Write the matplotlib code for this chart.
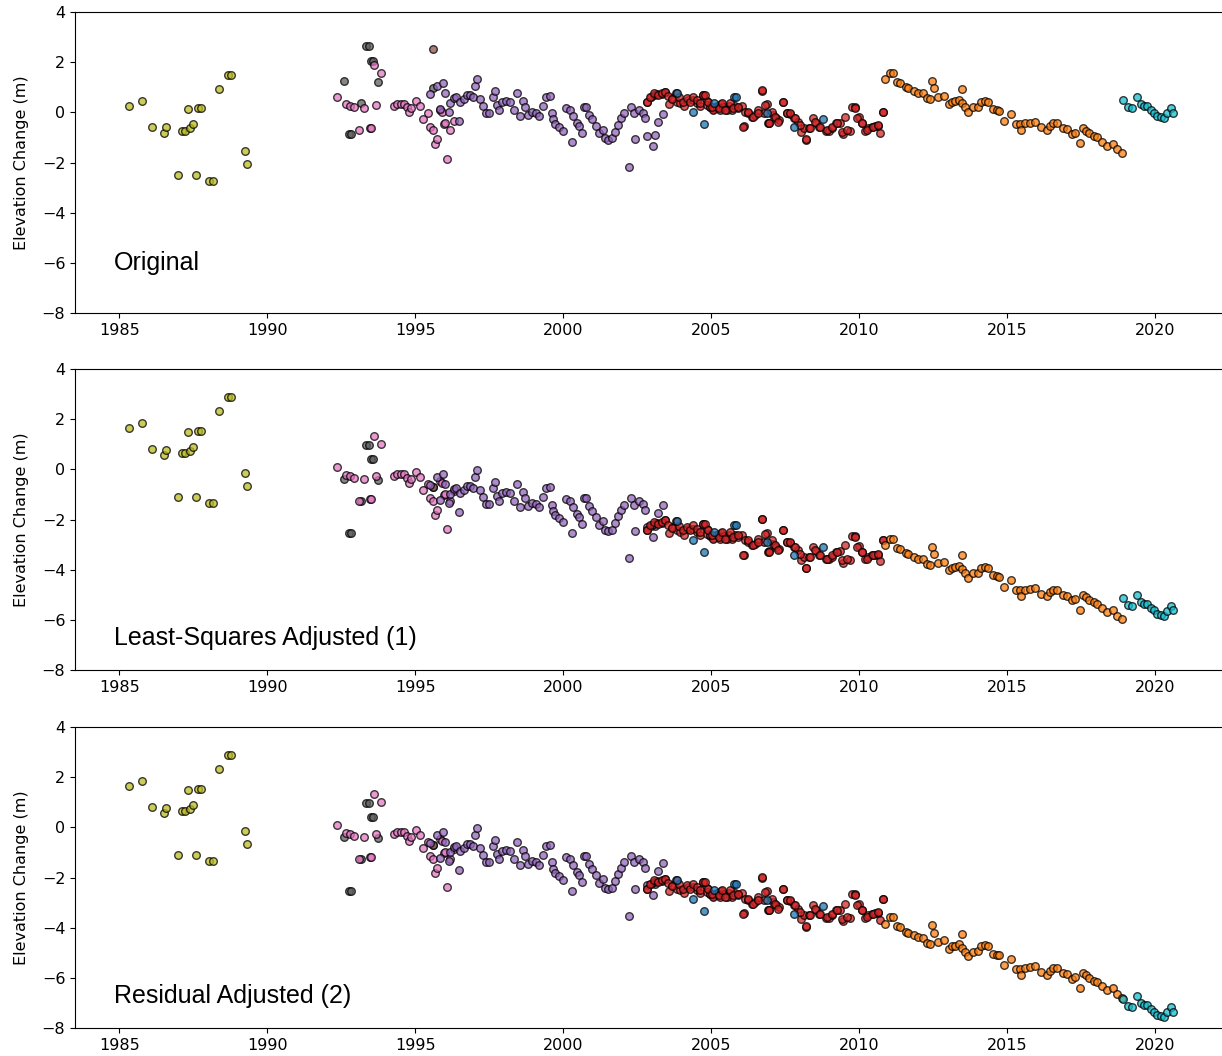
import matplotlib.pyplot as plt

# original elevation change (m) per sensor segment
olive_x = [1985.34, 1985.77, 1986.1, 1986.5, 1986.59, 1987.0, 1987.12, 1987.23, 1987.34, 1987.4,
           1987.5, 1987.6, 1987.68, 1987.77, 1988.05, 1988.17, 1988.36, 1988.67, 1988.77, 1989.26, 1989.33]
olive_y = [0.25, 0.46, -0.57, -0.81, -0.6, -2.51, -0.75, -0.75, 0.12, -0.64,
           -0.48, -2.51, 0.16, 0.16, -2.74, -2.74, 0.93, 1.49, 1.49, -1.53, -2.06]

gray_x = [1992.61, 1992.75, 1992.83, 1993.17, 1993.34, 1993.43, 1993.51, 1993.59, 1993.76, 1995.62]
gray_y = [1.25, -0.87, -0.87, 0.38, 2.64, 2.64, 2.06, 2.06, 1.22, 0.96]

brown_x = [1995.6]
brown_y = [2.51]

pink_x = [1992.35, 1992.67, 1992.8, 1992.92, 1993.1, 1993.28, 1993.46, 1993.52, 1993.6, 1993.68,
          1993.85, 1994.27, 1994.4, 1994.52, 1994.63, 1994.74, 1994.8, 1994.85, 1995.03, 1995.17,
          1995.28, 1995.42, 1995.51, 1995.6, 1995.68, 1995.75, 1995.84, 1995.9, 1995.98, 1996.01,
          1996.09, 1996.18, 1996.3]
pink_y = [0.63, 0.34, 0.27, 0.2, -0.72, 0.16, -0.64, -0.64, 1.89, 0.3,
          1.58, 0.27, 0.35, 0.35, 0.35, 0.2, 0.02, 0.16, 0.46, 0.25,
          -0.26, -0.02, -0.6, -0.7, -1.27, -1.08, 0.1, 0.02, -0.48, -0.44,
          -1.84, -0.71, -0.33]

purple_x = [1995.51, 1995.75, 1995.93, 1996.01, 1995.84, 1996.13, 1996.18, 1996.3, 1996.39, 1996.47,
            1996.52, 1996.64, 1996.75, 1996.86, 1996.95, 1997.03, 1997.1, 1997.2, 1997.29, 1997.4,
            1997.51, 1997.62, 1997.7, 1997.76, 1997.85, 1997.93, 1998.07, 1998.2, 1998.34, 1998.43,
            1998.55, 1998.64, 1998.72, 1998.83, 1998.94, 1999.09, 1999.2, 1999.31, 1999.42, 1999.54,
            1999.62, 1999.67, 1999.73, 1999.87, 1999.98, 2000.1, 2000.24, 2000.29, 2000.35, 2000.46,
            2000.54, 2000.63, 2000.69, 2000.78, 2000.86, 2000.97, 2001.11, 2001.22, 2001.34, 2001.42,
            2001.53, 2001.65, 2001.76, 2001.87, 2001.95, 2002.04, 2002.21, 2002.29, 2002.38, 2002.43,
            2002.58, 2002.69, 2002.77, 2002.85, 2003.03, 2003.11, 2003.22, 2003.37]
purple_y = [0.73, 1.05, 1.16, 0.76, 0.13, 0.02, 0.36, 0.56, 0.62, -0.33,
            0.42, 0.52, 0.69, 0.69, 0.62, 1.05, 1.34, 0.53, 0.25, -0.02,
            -0.02, 0.62, 0.86, 0.29, 0.09, 0.42, 0.45, 0.42, 0.09, 0.76,
            -0.15, 0.46, 0.2, -0.11, 0.02, -0.02, -0.15, 0.25, 0.62, 0.65,
            -0.04, -0.28, -0.47, -0.57, -0.73, 0.16, 0.09, -1.17, -0.15, -0.41,
            -0.55, -0.81, 0.2, 0.2, -0.11, -0.28, -0.55, -0.84, -0.71, -1.04,
            -1.1, -1.04, -0.77, -0.51, -0.24, -0.04, -2.17, 0.22, -0.04, -1.08,
            0.09, -0.02, -0.24, -0.94, -1.34, -0.9, -0.37, -0.07]

red_x = [2002.85, 2002.96, 2003.07, 2003.18, 2003.33, 2003.45, 2003.59, 2003.67, 2003.84, 2003.95,
         2004.09, 2004.23, 2004.38, 2004.51, 2004.63, 2004.74, 2004.85, 2004.97, 2005.08, 2005.21,
         2005.33, 2005.47, 2005.59, 2005.7, 2005.81, 2005.92, 2006.04, 2006.11, 2006.15, 2006.26,
         2006.37, 2006.49, 2006.6, 2006.71, 2006.77, 2006.88, 2006.93, 2006.97, 2007.08, 2007.2,
         2007.31, 2007.44, 2007.56, 2007.67, 2007.8, 2007.92, 2008.03, 2008.14, 2008.21, 2008.32,
         2008.43, 2008.55, 2008.66, 2008.88, 2008.99, 2009.1, 2009.22, 2009.36, 2009.45, 2009.53,
         2009.7, 2009.75, 2009.86, 2009.98, 2010.09, 2010.2, 2010.31, 2010.43, 2010.54, 2010.65,
         2010.71, 2010.8,
         2002.83, 2002.94, 2003.07, 2003.22, 2003.33, 2003.45, 2003.56, 2003.67, 2003.82, 2003.93,
         2004.04, 2004.18, 2004.29, 2004.4, 2004.51, 2004.63, 2004.74, 2004.85, 2004.97, 2005.08,
         2005.19, 2005.3, 2005.41, 2005.55,
         2004.8, 2004.91, 2005.02, 2005.25, 2005.36, 2005.47, 2005.64, 2005.75, 2005.92, 2006.09,
         2006.26, 2006.43, 2006.6, 2006.71, 2006.82, 2006.94, 2007.05, 2007.16, 2007.27, 2007.44,
         2007.56, 2007.67, 2007.84, 2008.01, 2008.21, 2008.34, 2008.51, 2008.68, 2008.91, 2009.08,
         2009.24, 2009.41, 2009.58, 2009.86, 2009.92, 2010.09, 2010.26, 2010.48, 2010.65, 2010.8]
red_y = [0.43, 0.6, 0.69, 0.73, 0.73, 0.82, 0.33, 0.56, 0.42, 0.36,
         0.25, 0.49, 0.49, 0.36, 0.25, 0.69, 0.46, 0.2, 0.12, 0.25,
         0.33, 0.2, 0.25, 0.09, 0.25, 0.16, 0.25, -0.55, 0.02, -0.04,
         -0.18, -0.11, 0.09, 0.86, -0.04, 0.33, -0.44, -0.41, -0.11, -0.24,
         -0.31, 0.42, -0.04, -0.08, -0.24, -0.37, -0.77, -0.64, -1.1, -0.64,
         -0.24, -0.41, -0.57, -0.73, -0.73, -0.64, -0.44, -0.41, -0.88, -0.18,
         -0.75, 0.2, 0.2, -0.2, -0.44, -0.73, -0.64, -0.57, -0.55, -0.55,
         -0.81, 0.02,
         0.42, 0.62, 0.76, 0.69, 0.76, 0.82, 0.65, 0.52, 0.78, 0.6,
         0.42, 0.56, 0.42, 0.62, 0.49, 0.36, 0.69, 0.29, 0.22, 0.09,
         0.22, 0.09, 0.2, 0.09,
         0.69, 0.42, 0.22, 0.16, 0.36, 0.09, 0.36, 0.16, 0.22, -0.57,
         0.02, -0.18, -0.04, 0.89, 0.29, -0.44, 0.02, -0.18, -0.37, 0.42,
         -0.04, -0.04, -0.24, -0.51, -1.08, -0.64, -0.37, -0.57, -0.71, -0.57,
         -0.44, -0.77, -0.71, 0.16, -0.24, -0.44, -0.71, -0.57, -0.51, 0.02]

blue_x = [2003.84, 2004.4, 2004.76, 2005.1, 2005.78, 2005.84, 2006.9, 2007.8, 2008.77]
blue_y = [0.79, 0.03, -0.46, 0.37, 0.62, 0.62, -0.04, -0.58, -0.26]

orange_x = [2010.88, 2011.05, 2011.16, 2011.27, 2011.39, 2011.59, 2011.66, 2011.86, 2012.0, 2012.15,
            2012.29, 2012.4, 2012.45, 2012.53, 2012.65, 2012.87, 2013.02, 2013.13, 2013.24, 2013.36,
            2013.47, 2013.47, 2013.58, 2013.69, 2013.86, 2014.03, 2014.11, 2014.26, 2014.37, 2014.54,
            2014.65, 2014.74, 2014.88, 2015.12, 2015.3, 2015.44, 2015.46, 2015.6, 2015.77, 2015.95,
            2016.14, 2016.36, 2016.45, 2016.56, 2016.7, 2016.9, 2017.02, 2017.19, 2017.3, 2017.47,
            2017.56, 2017.67, 2017.78, 2017.92, 2018.03, 2018.2, 2018.36, 2018.59, 2018.7, 2018.87]
orange_y = [1.32, 1.58, 1.58, 1.22, 1.18, 1.0, 0.96, 0.86, 0.78, 0.76,
            0.56, 0.52, 1.25, 0.96, 0.6, 0.65, 0.33, 0.42, 0.45, 0.49,
            0.36, 0.92, 0.2, 0.02, 0.2, 0.22, 0.42, 0.46, 0.42, 0.12,
            0.09, 0.06, -0.33, -0.08, -0.47, -0.47, -0.71, -0.44, -0.41, -0.37,
            -0.6, -0.71, -0.55, -0.44, -0.44, -0.64, -0.68, -0.87, -0.81, -1.24,
            -0.64, -0.73, -0.84, -0.95, -1.0, -1.17, -1.34, -1.26, -1.48, -1.63]

cyan_x = [2018.93, 2019.1, 2019.21, 2019.38, 2019.51, 2019.62, 2019.74, 2019.85, 2019.97, 2020.08,
          2020.19, 2020.3, 2020.41, 2020.53, 2020.61]
cyan_y = [0.49, 0.2, 0.16, 0.6, 0.33, 0.25, 0.25, 0.09, -0.02, -0.15,
          -0.2, -0.24, -0.04, 0.16, -0.02]

# constant shift of each segment in the two adjusted panels
shift_ls = {'olive': 1.39, 'gray': -1.65, 'brown': -3.2, 'pink': -0.55, 'purple': -1.36,
            'red': -2.85, 'blue': -2.85, 'orange': -4.35, 'cyan': -5.6}
shift_res = {'olive': 1.39, 'gray': -1.65, 'brown': -3.2, 'pink': -0.55, 'purple': -1.36,
             'red': -2.87, 'blue': -2.87, 'orange': -5.16, 'cyan': -7.33}

segments = [
    ('olive', olive_x, olive_y, 'tab:olive'),
    ('gray', gray_x, gray_y, '#5e5e5e'),
    ('brown', brown_x, brown_y, 'tab:brown'),
    ('pink', pink_x, pink_y, 'tab:pink'),
    ('purple', purple_x, purple_y, 'tab:purple'),
    ('red', red_x, red_y, 'tab:red'),
    ('blue', blue_x, blue_y, 'tab:blue'),
    ('orange', orange_x, orange_y, 'tab:orange'),
    ('cyan', cyan_x, cyan_y, 'tab:cyan'),
]

panels = [('Original', None, 0.7036, -6.3),
          ('Least-Squares Adjusted (1)', shift_ls, 0.3655, -7.0),
          ('Residual Adjusted (2)', shift_res, 0.0265, -7.0)]

fig = plt.figure(figsize=(12.22, 10.56), dpi=100)

for title, shift, bottom, label_y in panels:
    ax = fig.add_axes([0.0614, bottom, 0.9386, 0.285])
    for name, xs, ys, col in segments:
        off = 0 if shift is None else shift[name]
        ax.scatter(xs, [v + off for v in ys], s=30, c=col, alpha=0.75,
                   edgecolors='black', linewidths=1, zorder=2)
    ax.text(1984.83, label_y, title, fontsize=18, family='Liberation Sans',
            ha='left', va='baseline')
    ax.set_xlim(1983.51, 2022.26)
    ax.set_ylim(-8, 4)
    ax.set_yticks(range(-8, 5, 2))
    ax.set_xticks(range(1985, 2021, 5))
    ax.tick_params(labelsize=11.5)
    ax.set_ylabel('Elevation Change (m)', fontsize=11.5, labelpad=9)
    ax.spines['right'].set_visible(False)

fig.savefig('out.png', dpi=100)
